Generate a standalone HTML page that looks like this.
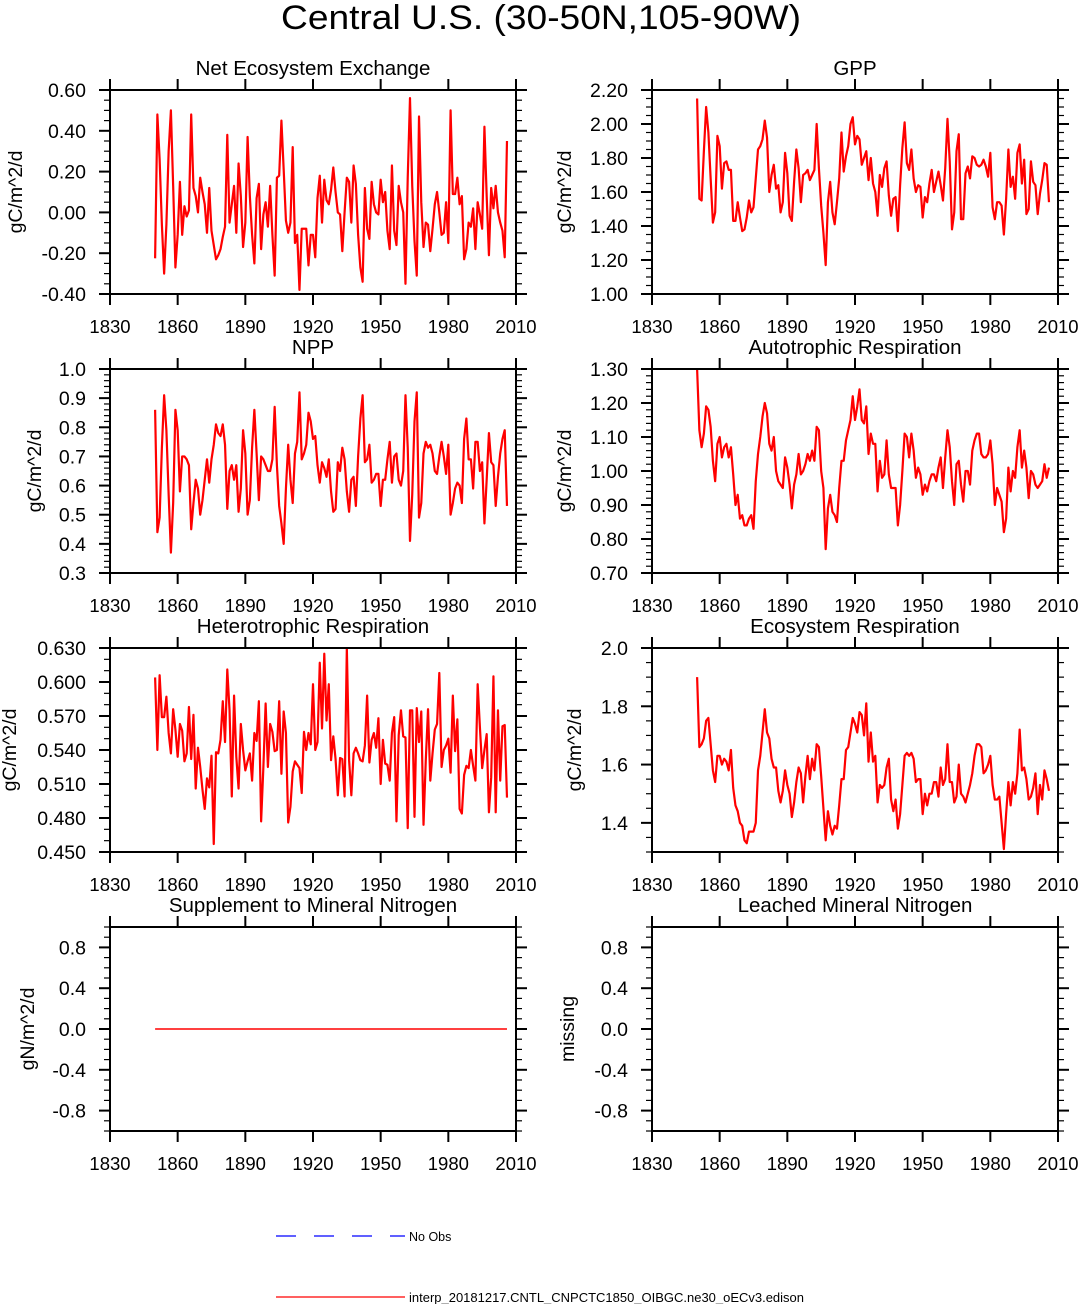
<!DOCTYPE html>
<html><head><meta charset="utf-8"><title>Central U.S.</title>
<style>
html,body{margin:0;padding:0;background:#fff;}
svg{display:block;font-family:"Liberation Sans",Arial,sans-serif;}
</style></head>
<body>
<svg id="chart" width="1079" height="1304" viewBox="0 0 1079 1304" xmlns="http://www.w3.org/2000/svg">
<text x="541" y="29" text-anchor="middle" font-size="34" textLength="520" lengthAdjust="spacingAndGlyphs">Central U.S. (30-50N,105-90W)</text>
<g>
<line x1="276" y1="1236" x2="405" y2="1236" stroke="#00f" stroke-width="1.2" stroke-dasharray="20,18"/>
<text x="409" y="1241" font-size="12.5">No Obs</text>
<line x1="276" y1="1297" x2="405" y2="1297" stroke="#f00" stroke-width="1.2"/>
<text x="409" y="1302" font-size="12.5" textLength="395" lengthAdjust="spacingAndGlyphs">interp_20181217.CNTL_CNPCTC1850_OIBGC.ne30_oECv3.edison</text>
</g>
</svg>
<script>
const firstYear = 1850;
const xTickLabels = [1830,1860,1890,1920,1950,1980,2010];
const neeValues = [-0.225,0.48,0.26,-0.06,-0.30,-0.06,0.30,0.50,0.13,-0.27,-0.11,0.15,-0.11,0.03,-0.02,0.01,0.48,0.12,0.08,0.00,0.17,0.10,0.04,-0.10,0.12,-0.09,-0.16,-0.23,-0.21,-0.18,-0.12,-0.07,0.38,-0.05,0.04,0.13,-0.10,0.24,0.08,-0.17,-0.05,0.37,0.08,-0.11,-0.25,0.07,0.14,-0.18,-0.01,0.05,-0.07,0.13,-0.11,-0.31,0.17,0.18,0.45,0.21,-0.04,-0.10,-0.05,0.32,-0.15,-0.11,-0.38,-0.08,-0.08,-0.08,-0.26,-0.11,-0.11,-0.22,0.07,0.18,-0.05,0.16,0.06,0.04,0.11,0.22,0.10,0.00,-0.01,-0.19,0.00,0.17,0.15,-0.05,0.23,0.14,-0.11,-0.27,-0.34,0.12,-0.08,-0.13,0.15,0.04,0.00,-0.01,0.16,0.05,0.10,-0.09,-0.18,0.23,-0.09,-0.16,0.13,0.05,0.00,-0.35,0.17,0.56,0.13,-0.14,-0.31,0.47,0.05,-0.17,-0.05,-0.06,-0.19,-0.08,0.04,0.10,0.00,-0.11,-0.10,0.05,-0.15,0.50,0.09,0.09,0.17,0.04,0.08,-0.23,-0.18,-0.05,-0.07,0.02,-0.18,0.05,-0.01,-0.08,0.42,0.08,-0.21,0.12,0.02,0.13,0.00,-0.05,-0.09,-0.22,0.35];
const gppValues = [2.15,1.56,1.55,1.84,2.10,1.95,1.68,1.42,1.48,1.93,1.87,1.62,1.77,1.78,1.73,1.73,1.43,1.43,1.54,1.45,1.37,1.38,1.45,1.55,1.48,1.51,1.68,1.85,1.87,1.91,2.02,1.92,1.60,1.70,1.76,1.62,1.64,1.48,1.54,1.83,1.71,1.46,1.43,1.66,1.85,1.74,1.54,1.70,1.71,1.73,1.67,1.70,1.73,2.00,1.74,1.52,1.36,1.17,1.54,1.66,1.48,1.41,1.54,1.68,1.95,1.72,1.81,1.87,2.00,2.04,1.88,1.93,1.91,1.76,1.80,1.84,1.67,1.80,1.65,1.60,1.46,1.70,1.63,1.74,1.78,1.58,1.46,1.56,1.57,1.37,1.64,1.86,2.01,1.77,1.73,1.85,1.68,1.60,1.64,1.63,1.45,1.57,1.54,1.65,1.73,1.60,1.66,1.72,1.64,1.55,1.74,2.03,1.78,1.38,1.48,1.84,1.94,1.44,1.44,1.71,1.75,1.68,1.81,1.80,1.76,1.75,1.76,1.79,1.75,1.69,1.83,1.51,1.44,1.54,1.54,1.52,1.35,1.56,1.85,1.63,1.69,1.56,1.83,1.88,1.65,1.79,1.47,1.50,1.78,1.66,1.64,1.47,1.59,1.67,1.77,1.76,1.54];
const nppValues = [0.86,0.44,0.49,0.73,0.91,0.79,0.57,0.37,0.54,0.86,0.79,0.58,0.70,0.70,0.69,0.67,0.45,0.54,0.62,0.59,0.50,0.55,0.62,0.69,0.61,0.69,0.74,0.81,0.78,0.77,0.81,0.74,0.52,0.65,0.67,0.62,0.67,0.51,0.59,0.79,0.71,0.50,0.55,0.73,0.86,0.71,0.55,0.70,0.69,0.67,0.65,0.65,0.69,0.87,0.67,0.53,0.47,0.40,0.59,0.74,0.62,0.54,0.71,0.75,0.92,0.69,0.71,0.74,0.85,0.82,0.76,0.77,0.67,0.61,0.68,0.66,0.63,0.69,0.58,0.51,0.52,0.68,0.65,0.73,0.69,0.58,0.51,0.62,0.63,0.53,0.70,0.83,0.91,0.68,0.69,0.74,0.61,0.62,0.64,0.64,0.53,0.62,0.62,0.69,0.75,0.61,0.70,0.71,0.62,0.60,0.65,0.91,0.73,0.41,0.57,0.82,0.92,0.49,0.54,0.71,0.75,0.73,0.74,0.71,0.65,0.64,0.70,0.75,0.70,0.64,0.74,0.50,0.54,0.59,0.61,0.60,0.54,0.76,0.83,0.69,0.69,0.59,0.75,0.75,0.65,0.68,0.47,0.62,0.78,0.68,0.67,0.53,0.63,0.71,0.76,0.79,0.53];
const arValues = [1.30,1.12,1.07,1.11,1.19,1.18,1.13,1.03,0.97,1.08,1.10,1.04,1.07,1.08,1.04,1.07,0.99,0.90,0.93,0.86,0.87,0.84,0.84,0.86,0.87,0.83,0.97,1.05,1.10,1.16,1.20,1.17,1.08,1.06,1.10,1.00,0.97,0.96,0.95,1.04,1.01,0.96,0.89,0.96,0.99,1.05,0.99,1.00,1.02,1.05,1.03,1.06,1.03,1.13,1.12,1.00,0.95,0.77,0.89,0.93,0.88,0.87,0.85,0.95,1.03,1.03,1.09,1.12,1.15,1.22,1.15,1.19,1.24,1.15,1.14,1.19,1.05,1.11,1.08,1.08,0.94,1.03,0.98,0.99,1.09,0.99,0.95,0.95,0.95,0.84,0.90,1.00,1.11,1.10,1.04,1.11,1.06,0.98,1.01,0.99,0.93,0.96,0.94,0.97,0.99,0.99,0.97,1.01,1.04,0.95,1.04,1.12,1.07,0.97,0.90,1.02,1.03,0.96,0.91,1.00,1.00,0.96,1.06,1.09,1.11,1.11,1.05,1.04,1.04,1.05,1.09,1.02,0.90,0.95,0.93,0.91,0.82,0.86,1.01,0.94,1.00,0.98,1.07,1.12,1.01,1.06,1.01,0.92,1.00,0.99,0.96,0.95,0.96,0.97,1.02,0.98,1.01];
const hrValues = [0.604,0.540,0.606,0.569,0.569,0.587,0.555,0.537,0.576,0.558,0.534,0.563,0.557,0.530,0.537,0.578,0.532,0.571,0.506,0.542,0.525,0.505,0.488,0.515,0.507,0.535,0.457,0.538,0.537,0.549,0.583,0.547,0.611,0.575,0.499,0.588,0.534,0.506,0.563,0.540,0.522,0.530,0.537,0.513,0.555,0.548,0.583,0.477,0.525,0.581,0.525,0.563,0.556,0.539,0.540,0.583,0.519,0.574,0.555,0.476,0.490,0.521,0.530,0.527,0.524,0.502,0.556,0.540,0.555,0.545,0.598,0.540,0.547,0.617,0.559,0.625,0.566,0.598,0.531,0.552,0.532,0.500,0.533,0.532,0.499,0.630,0.531,0.500,0.537,0.542,0.537,0.531,0.530,0.544,0.588,0.529,0.549,0.555,0.542,0.568,0.510,0.549,0.528,0.527,0.513,0.555,0.569,0.477,0.553,0.575,0.552,0.551,0.471,0.575,0.575,0.481,0.577,0.547,0.574,0.474,0.531,0.576,0.513,0.537,0.558,0.563,0.608,0.525,0.540,0.544,0.550,0.520,0.588,0.539,0.567,0.488,0.484,0.518,0.526,0.524,0.540,0.526,0.513,0.598,0.560,0.524,0.540,0.554,0.485,0.516,0.605,0.485,0.575,0.513,0.561,0.562,0.498];
const erValues = [1.90,1.66,1.67,1.69,1.75,1.76,1.67,1.58,1.54,1.63,1.63,1.60,1.62,1.61,1.58,1.65,1.52,1.46,1.44,1.40,1.39,1.34,1.33,1.37,1.37,1.37,1.40,1.58,1.63,1.71,1.79,1.71,1.69,1.62,1.59,1.59,1.51,1.47,1.51,1.58,1.53,1.50,1.42,1.47,1.54,1.59,1.57,1.47,1.56,1.63,1.55,1.62,1.58,1.67,1.66,1.56,1.45,1.34,1.44,1.39,1.36,1.39,1.38,1.46,1.55,1.55,1.65,1.66,1.71,1.76,1.74,1.71,1.78,1.77,1.70,1.81,1.61,1.71,1.61,1.63,1.47,1.53,1.52,1.53,1.59,1.62,1.48,1.44,1.48,1.38,1.43,1.53,1.63,1.64,1.63,1.64,1.62,1.54,1.55,1.55,1.43,1.50,1.46,1.50,1.50,1.54,1.54,1.49,1.59,1.53,1.55,1.67,1.54,1.54,1.47,1.49,1.60,1.50,1.49,1.47,1.50,1.53,1.57,1.63,1.67,1.67,1.66,1.57,1.58,1.60,1.63,1.53,1.48,1.48,1.49,1.40,1.31,1.43,1.54,1.46,1.54,1.50,1.57,1.72,1.58,1.59,1.55,1.48,1.49,1.52,1.57,1.43,1.53,1.48,1.58,1.55,1.51];
const smnValues = [0,0,0,0,0,0,0,0,0,0,0,0,0,0,0,0,0,0,0,0,0,0,0,0,0,0,0,0,0,0,0,0,0,0,0,0,0,0,0,0,0,0,0,0,0,0,0,0,0,0,0,0,0,0,0,0,0,0,0,0,0,0,0,0,0,0,0,0,0,0,0,0,0,0,0,0,0,0,0,0,0,0,0,0,0,0,0,0,0,0,0,0,0,0,0,0,0,0,0,0,0,0,0,0,0,0,0,0,0,0,0,0,0,0,0,0,0,0,0,0,0,0,0,0,0,0,0,0,0,0,0,0,0,0,0,0,0,0,0,0,0,0,0,0,0,0,0,0,0,0,0,0,0,0,0,0,0];
const leachedValues = [];

const NS = "http://www.w3.org/2000/svg";
const svg = document.getElementById("chart");
function mk(tag, attrs, parent) {
  const e = document.createElementNS(NS, tag);
  for (const k in attrs) e.setAttribute(k, attrs[k]);
  (parent || svg).appendChild(e);
  return e;
}
const panels = [
  {id:"nee", title:"Net Ecosystem Exchange", ylab:"gC/m^2/d", ylx:16, x0:110, y0:90, lo:-0.4, hi:0.6, major:0.2, minor:0.05, dec:2, data:neeValues, sw:2.2},
  {id:"gpp", title:"GPP", ylab:"gC/m^2/d", ylx:565, x0:652, y0:90, lo:1.0, hi:2.2, major:0.2, minor:0.05, dec:2, data:gppValues, sw:2.2},
  {id:"npp", title:"NPP", ylab:"gC/m^2/d", ylx:35, x0:110, y0:369, lo:0.3, hi:1.0, major:0.1, minor:0.02, dec:1, data:nppValues, sw:2.2},
  {id:"ar", title:"Autotrophic Respiration", ylab:"gC/m^2/d", ylx:565, x0:652, y0:369, lo:0.7, hi:1.3, major:0.1, minor:0.02, dec:2, data:arValues, sw:2.2},
  {id:"hr", title:"Heterotrophic Respiration", ylab:"gC/m^2/d", ylx:10, x0:110, y0:648, lo:0.45, hi:0.63, major:0.03, minor:0.01, dec:3, data:hrValues, sw:2.2},
  {id:"er", title:"Ecosystem Respiration", ylab:"gC/m^2/d", ylx:575, x0:652, y0:648, lo:1.3, hi:2.0, major:0.2, minor:0.05, dec:1, data:erValues, sw:2.2, majStart:1.4},
  {id:"smn", title:"Supplement to Mineral Nitrogen", ylab:"gN/m^2/d", ylx:28, x0:110, y0:927, lo:-1, hi:1, major:0.4, minor:0.1, dec:1, data:smnValues, sw:1.5, majStart:-0.8},
  {id:"leached", title:"Leached Mineral Nitrogen", ylab:"missing", ylx:568, x0:652, y0:927, lo:-1, hi:1, major:0.4, minor:0.1, dec:1, data:leachedValues, sw:1.5, majStart:-0.8}
];
const W = 406, H = 204;
panels.forEach(p => {
  const g = mk("g", {});
  
  
  const xs = yr => p.x0 + (yr - 1830) / 180 * W;
  const ys = v => p.y0 + H - (v - p.lo) / (p.hi - p.lo) * H;
  const cp = mk("clipPath", {id: "clip-" + p.id}, g);
  mk("rect", {x: p.x0, y: p.y0, width: W, height: H}, cp);
  const t = mk("text", {x: p.x0 + W/2, y: p.y0 - 15, "text-anchor": "middle", "font-size": 20.5}, g);
  t.textContent = p.title;
  
  
  const yl = mk("text", {x: 0, y: 0, "text-anchor": "middle", "dominant-baseline": "central", "font-size": 19.5, transform: "translate(" + p.ylx + "," + (p.y0 + H/2) + ") rotate(-90)"}, g);
  yl.textContent = p.ylab;
  
  
  const n = Math.round((p.hi - p.lo) / p.minor);
  for (let i = 0; i <= n; i++) {
    const y = ys(p.lo + i * p.minor);
    mk("line", {x1: p.x0 - 6, y1: y, x2: p.x0, y2: y, stroke: "#000", "stroke-width": 1.2}, g);
    mk("line", {x1: p.x0 + W, y1: y, x2: p.x0 + W + 6, y2: y, stroke: "#000", "stroke-width": 1.2}, g);
  }
  const ms = p.majStart !== undefined ? p.majStart : p.lo;
  for (let v = ms; v <= p.hi + 1e-9; v += p.major) {
    const y = ys(v);
    mk("line", {x1: p.x0 - 11, y1: y, x2: p.x0, y2: y, stroke: "#000", "stroke-width": 2}, g);
    mk("line", {x1: p.x0 + W, y1: y, x2: p.x0 + W + 11, y2: y, stroke: "#000", "stroke-width": 2}, g);
    const lab = mk("text", {x: p.x0 - 24, y: y + 7, "text-anchor": "end", "font-size": 19.5}, g);
    lab.textContent = (Math.abs(v) < 1e-9 ? 0 : v).toFixed(p.dec);
    
    
  }
  xTickLabels.forEach(yr => {
    const x = xs(yr);
    mk("line", {x1: x, y1: p.y0 - 11, x2: x, y2: p.y0, stroke: "#000", "stroke-width": 2}, g);
    mk("line", {x1: x, y1: p.y0 + H, x2: x, y2: p.y0 + H + 11, stroke: "#000", "stroke-width": 2}, g);
    const lab = mk("text", {x: x, y: p.y0 + H + 39, "text-anchor": "middle", "font-size": 18.5}, g);
    lab.textContent = yr;
    
    
  });
  if (p.data.length) {
    const pts = p.data.map((v, i) => xs(firstYear + i).toFixed(2) + "," + ys(v).toFixed(2)).join(" ");
    const pl = mk("polyline", {points: pts, fill: "none", stroke: "#f00", "stroke-width": p.sw, "stroke-linejoin": "round", "clip-path": "url(#clip-" + p.id + ")"}, g);
    
    
  }
  const fr = mk("rect", {x: p.x0, y: p.y0, width: W, height: H, fill: "none", stroke: "#000", "stroke-width": 2}, g);
  
  
});
</script>
</body></html>
